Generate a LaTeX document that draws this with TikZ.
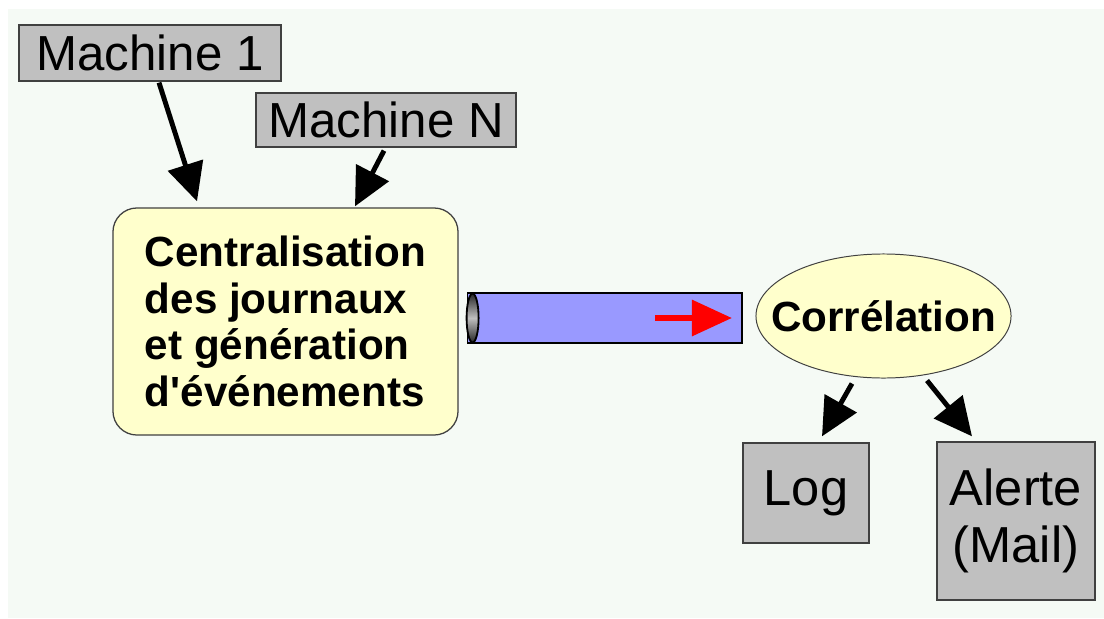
\documentclass[tikz,border=0pt]{standalone}
\usepackage{fontspec}
\setmainfont{Liberation Sans}
\usetikzlibrary{shapes.geometric,arrows.meta,positioning,calc}
\definecolor{boxgray}{HTML}{C0C0C0}
\definecolor{paleyellow}{HTML}{FFFFCC}
\definecolor{tubeblue}{HTML}{9999FF}
\definecolor{backdrop}{HTML}{F5FAF5}

\begin{document}
\begin{tikzpicture}[x=0.025cm, y=-0.025cm,
  host/.style={draw=black!75, line width=0.9pt, fill=boxgray, inner sep=0pt, font=\fontsize{35}{40}\selectfont},
  outbox/.style={draw=black!75, line width=0.9pt, fill=boxgray, inner sep=0pt, align=center, font=\fontsize{36}{40}\selectfont},
  hub/.style={draw=black!75, line width=0.9pt, fill=paleyellow, rounded corners=0.6cm, align=left, inner sep=0pt, font=\fontsize{30}{33}\selectfont\bfseries},
  corr/.style={ellipse, draw=black!75, line width=0.7pt, fill=paleyellow, inner xsep=-0.6cm, inner ysep=0.2cm, font=\fontsize{30}{33}\selectfont\bfseries},
  pipe/.style={cylinder, shape border rotate=180, aspect=0.245, draw=black, line width=1.3pt, cylinder uses custom fill, cylinder body fill=tubeblue, cylinder end fill=tubeblue, inner sep=0pt},
  flow/.style={-{Triangle[length=0.95cm, width=0.9cm]}, line width=3.5pt},
  redflow/.style={-{Triangle[length=1cm, width=0.875cm]}, red, line width=4.3pt}
]
\useasboundingbox (0,0) rectangle (1104,618);
\fill[backdrop] (8,9) rectangle (1104,618);

\node[host, minimum width=6.55cm, minimum height=1.4cm] (m1) at (150,53) {Machine 1};
\node[host, minimum width=6.5cm, minimum height=1.35cm] (mN) at (386,120) {Machine N};
\node[hub, minimum width=8.625cm, minimum height=5.675cm] (logs) at (285.5,321.5)
  {Centralisation\\des journaux\\et génération\\d\textquotesingle événements};

% the pipe carrying the events, open end on the left
\node[pipe, minimum height=6.85cm, minimum width=1.25cm] (pipe) at (605,318) {};
\shade[top color=black!85, bottom color=black!85, middle color=black!25]
  ($(pipe.west)+(6,0)$) ellipse [x radius=0.15cm, y radius=0.61cm];
\draw[line width=1.3pt] ($(pipe.west)+(6,0)$) ellipse [x radius=0.15cm, y radius=0.61cm];
\coordinate (push) at (655,318);
\coordinate (pushtip) at (732,318);
\draw[redflow] (push) -- (pushtip);

\node[corr, minimum width=6.375cm, minimum height=3.1cm] (corr) at (883.5,316) {Corrélation};
\node[outbox, minimum width=3.15cm, minimum height=2.5cm] (log) at (806,493) {Log};
\node[outbox, minimum width=3.95cm, minimum height=3.95cm] (alert) at (1016,521) {Alerte\\(Mail)};

\draw[flow] ([shift={(9,1)}]m1.south) -- ([shift={(-88.5,-6)}]logs.north);
\draw[flow] ([shift={(-2,3)}]mN.south) -- ([shift={(69.5,-1)}]logs.north);
\draw[flow] ([shift={(-31.5,5)}]corr.south) -- ([shift={(16,-6)}]log.north);
\draw[flow] ([shift={(43.5,2)}]corr.south) -- ([shift={(-44,-5)}]alert.north);
\end{tikzpicture}
\end{document}
